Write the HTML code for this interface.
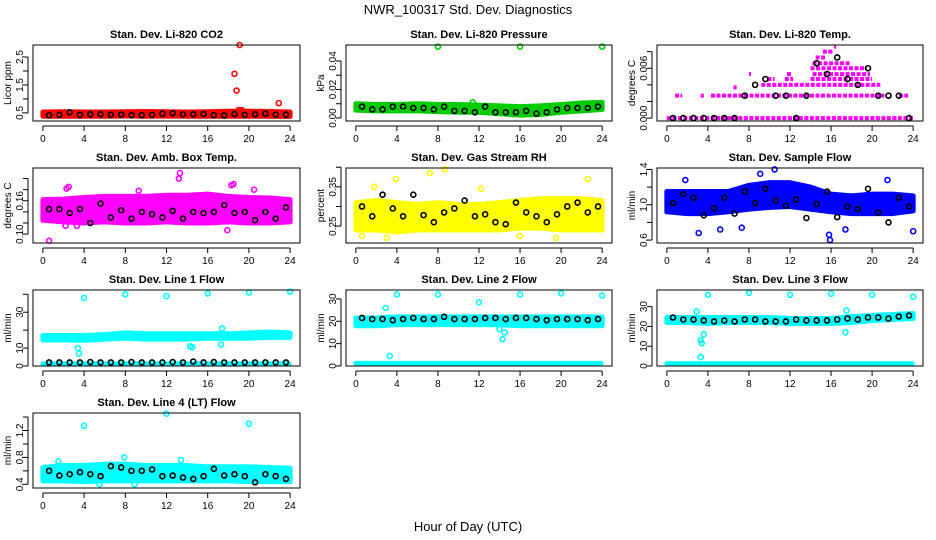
<!DOCTYPE html>
<html><head><meta charset="utf-8"><style>
body{margin:0;background:#fff}
svg{display:block;font-family:"Liberation Sans",Arial,sans-serif}
</style></head><body>
<svg id="c" width="936" height="540" viewBox="0 0 936 540">
<rect width="936" height="540" fill="#fff"/>
<text x="468" y="14" text-anchor="middle" font-size="13">NWR_100317  Std. Dev. Diagnostics</text>
<text x="468" y="531" text-anchor="middle" font-size="13">Hour of Day (UTC)</text>
</svg>
<script>
const envHours=[0,2,4,6,8,10,12,14,16,18,20,22,24];
const blackHours=[0.6,1.6,2.6,3.6,4.6,5.6,6.6,7.6,8.6,9.6,10.6,11.6,12.6,13.6,14.6,15.6,16.6,17.6,18.6,19.6,20.6,21.6,22.6,23.6];
const xTicks=[0,4,8,12,16,20,24];

const co2Lo=[0.38,0.38,0.38,0.38,0.39,0.38,0.39,0.38,0.38,0.38,0.38,0.38,0.37];
const co2Hi=[0.53,0.54,0.53,0.53,0.54,0.55,0.54,0.53,0.54,0.56,0.56,0.55,0.53];
const co2Black=[0.42,0.43,0.52,0.43,0.45,0.45,0.43,0.44,0.42,0.42,0.43,0.47,0.49,0.45,0.45,0.46,0.42,0.41,0.46,0.43,0.45,0.47,0.44,0.44];
const co2Out=[[18.6,1.9],[18.8,1.3],[19.1,2.93],[19.0,0.6],[19.3,0.6],[22.9,0.85]];

const presLo=[0.0055,0.005,0.005,0.005,0.0045,0.004,0.004,0.003,0.002,0.0025,0.004,0.005,0.006];
const presHi=[0.0100,0.0095,0.0095,0.010,0.0095,0.0095,0.009,0.0085,0.008,0.0085,0.0095,0.0105,0.011];
const presBlack=[0.008,0.006,0.006,0.008,0.008,0.007,0.007,0.006,0.008,0.005,0.005,0.004,0.008,0.004,0.004,0.004,0.005,0.003,0.004,0.006,0.007,0.007,0.007,0.008];
const presOut=[[8,0.05],[16,0.05],[24,0.05],[11.4,0.011]];

const tempSegLevel=[0,0.0027,0.0027,0.0027,0.0027,0.0037,0.004,0.0047,0.0047,0.0047,0.0053,0.0053,0.0053,0.006,0.0066,0.0073,0.008,0.0086];
const tempSegStart=[0,0.8,3.3,4.3,22.6,6.5,9.2,9.8,11.5,14,8,11.7,14.2,14,14.2,14.5,15.2,16.3];
const tempSegEnd=[24,1.5,3.6,21.2,23.5,6.8,20.8,10.5,12.3,20,8.2,12.2,19.8,19.5,17.8,15.5,16.2,16.5];
const tempBlack=[0,0,0,0,0,0,0,0.0027,0.004,0.0047,0.0027,0.0027,0,0.0027,0.0066,0.0053,0.0073,0.0047,0.004,0.006,0.0027,0.0027,0.0027,0];

const ambLo=[0.125,0.122,0.12,0.122,0.12,0.12,0.122,0.12,0.12,0.122,0.12,0.12,0.122];
const ambHi=[0.162,0.163,0.166,0.168,0.168,0.168,0.17,0.17,0.172,0.168,0.166,0.165,0.162];
const ambBlack=[0.145,0.145,0.138,0.145,0.12,0.155,0.13,0.143,0.128,0.14,0.136,0.13,0.142,0.128,0.14,0.138,0.14,0.152,0.138,0.14,0.125,0.14,0.128,0.148];
const ambOut=[[13.3,0.21],[13.2,0.20],[2.5,0.185],[2.3,0.182],[18.5,0.19],[18.3,0.188],[9.3,0.178],[17.9,0.107],[2.2,0.115],[3.3,0.115],[0.6,0.088],[20.5,0.18]];

const rhLo=[0.24,0.24,0.235,0.24,0.24,0.24,0.24,0.24,0.245,0.245,0.24,0.24,0.24];
const rhHi=[0.31,0.315,0.31,0.305,0.31,0.305,0.305,0.31,0.315,0.32,0.32,0.32,0.315];
const rhBlack=[0.30,0.275,0.33,0.295,0.275,0.33,0.278,0.26,0.285,0.295,0.315,0.275,0.28,0.26,0.255,0.31,0.285,0.275,0.26,0.28,0.30,0.31,0.285,0.30];
const rhOut=[[3.9,0.37],[7.2,0.385],[8.7,0.395],[22.6,0.37],[0.6,0.225],[3,0.22],[16,0.225],[1.8,0.35],[12.2,0.345],[19.5,0.22]];

const flowLo=[0.92,0.9,0.9,0.92,0.95,0.97,0.98,0.95,0.92,0.9,0.9,0.9,0.93];
const flowHi=[1.15,1.15,1.15,1.15,1.22,1.25,1.25,1.2,1.12,1.1,1.12,1.12,1.1];
const flowBlack=[1.02,1.12,1.08,0.88,0.96,1.08,0.9,1.15,1.02,1.18,1.05,0.99,1.06,0.85,1.01,1.15,0.86,0.98,0.95,1.18,0.91,0.8,1.08,0.98];
const flowOut=[[10.5,1.4],[9.1,1.35],[3.1,0.68],[5.2,0.72],[7.3,0.74],[15.9,0.6],[15.8,0.66],[24,0.7],[1.8,1.28],[21.5,1.28],[17.4,0.72]];

const l1Lo=[14.5,14.5,14.3,15,15.5,15,15,15,15.5,15.5,15.5,16,16];
const l1Hi=[17,17,17,17.5,18.5,18,18,18,18,18,18.5,19,18.5];
const l1Black=[2,2,2,2,2.2,2,2,2,2.2,2,2,2,2.2,2,2.5,2,2.2,2,2,2,2,2,2,2];
const l1Out=[[4,38],[8,40],[12,39],[16,40.5],[20,41],[24,41.5],[3.4,10],[3.5,7],[17.4,21],[17.3,12],[14.3,11],[14.5,10.5]];

const l2Lo=[18,18,18.5,18.5,18.5,18.5,18.5,18.5,18,18,18,18,18];
const l2Hi=[21.5,21.5,22,22,22,22,22,22,22,22,22,22,22];
const l2Black=[21.5,21,21,20.5,21,21.5,21,21,22,21,21,21,21.5,21.5,21,21.5,21.5,21,20.5,21,21,21,20.5,21];
const l2Out=[[4,32],[8,32],[16,32],[20,32.5],[24,31.5],[2.9,26],[12,28.5],[3.3,4.5],[14.3,12],[14.5,15],[14,16.5]];

const l3Lo=[22,22,21.5,22,22,22,21.5,21.5,21.5,22,23,23.5,24];
const l3Hi=[24.5,24.5,24.5,24.5,24.5,24.5,24,24,24,25,25.5,26,26.5];
const l3Black=[24.5,23.5,23.5,23,22.5,23,22.5,23.5,23.5,22.5,22.5,22.5,23.5,23,23,23,23.5,24,23.5,24.5,24.5,24,25,25.5];
const l3Out=[[4,36],[8,37],[12,36],[16,36.5],[20,36],[24,35],[2.9,27.5],[3.3,13],[3.4,11.5],[3.6,16],[3.3,4.5],[17.4,17],[17.5,28]];

const l4Lo=[0.45,0.45,0.44,0.45,0.45,0.45,0.45,0.45,0.45,0.45,0.44,0.44,0.44];
const l4Hi=[0.65,0.68,0.68,0.7,0.7,0.68,0.68,0.68,0.66,0.66,0.66,0.65,0.64];
const l4Black=[0.6,0.53,0.55,0.58,0.55,0.52,0.67,0.65,0.6,0.6,0.62,0.52,0.53,0.5,0.48,0.52,0.63,0.53,0.55,0.52,0.43,0.55,0.52,0.48];
const l4Out=[[4,1.27],[12,1.45],[20,1.3],[7.9,0.8],[13.4,0.76],[1.5,0.74],[5.5,0.4],[8.9,0.4]];

const svg=document.getElementById('c');
const NS='http://www.w3.org/2000/svg';
function mk(tag,attrs,parent){const e=document.createElementNS(NS,tag);for(const k in attrs)e.setAttribute(k,attrs[k]);(parent||svg).appendChild(e);return e;}

const cols=[[33,300],[346,612],[657,923]];
const rows=[[45,121],[168,243],[290,366],[413,488]];

function panel(p){
  const [bx0,bx1]=cols[p.col],[by0,by1]=rows[p.row];
  const g=mk('g',{});
  
  
  const xs=h=>bx0+(bx1-bx0)*(h+0.96)/25.92;
  const ys=v=>by1-(by1-by0)*(v-p.yMin)/(p.yMax-p.yMin);
  const t=mk('text',{x:(bx0+bx1)/2,y:by0-7,'text-anchor':'middle','font-size':11,'font-weight':'bold'},g);
  t.textContent=p.title;
  
  
  const plot=mk('g',{},g);
  
  
  if(p.lo){
    let d='M'+envHours.map((h,i)=>xs(h)+','+ys(p.hi[i])).join('L')+'L'+envHours.slice().reverse().map((h,i)=>xs(h)+','+ys(p.lo[p.lo.length-1-i])).join('L')+'Z';
    const b=mk('path',{d:d,fill:p.color,stroke:p.color,'stroke-width':5,'stroke-linejoin':'round'},plot);
    
    
  }
  if(p.bottom){
    const b=mk('line',{x1:xs(0),x2:xs(23.9),y1:ys(1.2),y2:ys(1.2),stroke:p.color,'stroke-width':5,'stroke-linecap':'round'},plot);
    
    
  }
  if(p.segs){
    p.segs.level.forEach((lv,i)=>{
      const s=mk('line',{x1:xs(p.segs.start[i]),x2:xs(p.segs.end[i]),y1:ys(lv),y2:ys(lv),stroke:p.color,'stroke-width':4,'stroke-dasharray':'4 1.5'},plot);
      
      
    });
  }
  (p.out||[]).forEach(o=>{
    const c=mk('circle',{cx:xs(o[0]),cy:ys(o[1]),r:2.5,fill:'none',stroke:p.color,'stroke-width':1.6},plot);
    
    
  });
  p.black.forEach((v,i)=>{
    const c=mk('circle',{cx:xs(blackHours[i]),cy:ys(v),r:2.5,fill:'none',stroke:'#000','stroke-width':1.6},plot);
    
    
  });
  const box=mk('rect',{x:bx0,y:by0,width:bx1-bx0,height:by1-by0,fill:'none',stroke:'#000','stroke-width':1},g);
  
  
  const xa=mk('g',{},g);
  
  
  mk('line',{x1:xs(0),x2:xs(24),y1:by1+5,y2:by1+5,stroke:'#000'},xa);
  xTicks.forEach(h=>{
    mk('line',{x1:xs(h),x2:xs(h),y1:by1+5,y2:by1+10,stroke:'#000'},xa);
    const tl=mk('text',{x:xs(h),y:by1+21,'text-anchor':'middle','font-size':10},xa);
    tl.textContent=h;
    
    
  });
  const ya=mk('g',{},g);
  
  
  const ax=bx0-5;
  mk('line',{x1:ax,x2:ax,y1:ys(p.ticks[0]),y2:ys(p.ticks[p.ticks.length-1]),stroke:'#000'},ya);
  p.ticks.forEach(v=>mk('line',{x1:ax,x2:ax-5,y1:ys(v),y2:ys(v),stroke:'#000'},ya));
  p.labels.forEach(v=>{
    const y=ys(v),x=bx0-10;
    const tl=mk('text',{x:x,y:y,'text-anchor':'middle','font-size':10,transform:`rotate(-90 ${x} ${y})`},ya);
    tl.textContent=p.fmt(v);
    
    
  });
  const tx=bx0-22,ty=(by0+by1)/2;
  const yt=mk('text',{x:tx,y:ty,'text-anchor':'middle','font-size':10,transform:`rotate(-90 ${tx} ${ty})`},ya);
  yt.textContent=p.ylab;
  
  
}

panel({name:'co2-panel',title:'Stan. Dev. Li-820 CO2',col:0,row:0,yMin:0.21,yMax:2.93,ticks:[0.5,1,1.5,2,2.5],labels:[0.5,1.5,2.5],fmt:v=>v.toFixed(1),ylab:'Licor ppm',color:'#ff0000',lo:co2Lo,hi:co2Hi,black:co2Black,out:co2Out});
panel({name:'pressure-panel',title:'Stan. Dev. Li-820 Pressure',col:1,row:0,yMin:-0.0021,yMax:0.0512,ticks:[0,0.01,0.02,0.03,0.04],labels:[0,0.02,0.04],fmt:v=>v.toFixed(2),ylab:'kPa',color:'#00cc00',lo:presLo,hi:presHi,black:presBlack,out:presOut});
panel({name:'li820-temp-panel',title:'Stan. Dev. Li-820 Temp.',col:2,row:0,yMin:-0.00035,yMax:0.0088,ticks:[0,0.002,0.004,0.006,0.008],labels:[0,0.006],fmt:v=>v.toFixed(3),ylab:'degrees C',color:'#ff00ff',segs:{level:tempSegLevel,start:tempSegStart,end:tempSegEnd},black:tempBlack,out:[]});
panel({name:'amb-box-temp-panel',title:'Stan. Dev. Amb. Box Temp.',col:0,row:1,yMin:0.084,yMax:0.219,ticks:[0.1,0.12,0.14,0.16,0.18,0.2],labels:[0.1,0.16],fmt:v=>v.toFixed(2),ylab:'degrees C',color:'#ff00ff',lo:ambLo,hi:ambHi,black:ambBlack,out:ambOut});
panel({name:'gas-stream-rh-panel',title:'Stan. Dev. Gas Stream RH',col:1,row:1,yMin:0.207,yMax:0.398,ticks:[0.25,0.3,0.35,0.4],labels:[0.25,0.35],fmt:v=>v.toFixed(2),ylab:'percent',color:'#ffff00',lo:rhLo,hi:rhHi,black:rhBlack,out:rhOut});
panel({name:'sample-flow-panel',title:'Stan. Dev. Sample Flow',col:2,row:1,yMin:0.567,yMax:1.416,ticks:[0.6,0.8,1.0,1.2,1.4],labels:[0.6,1.0,1.4],fmt:v=>v.toFixed(1),ylab:'ml/min',color:'#0000ff',lo:flowLo,hi:flowHi,black:flowBlack,out:flowOut});
panel({name:'line1-flow-panel',title:'Stan. Dev. Line 1 Flow',col:0,row:2,yMin:0,yMax:42.4,ticks:[0,10,20,30,40],labels:[0,10,30],fmt:v=>String(v),ylab:'ml/min',color:'#00ffff',lo:l1Lo,hi:l1Hi,bottom:true,black:l1Black,out:l1Out});
panel({name:'line2-flow-panel',title:'Stan. Dev. Line 2 Flow',col:1,row:2,yMin:0,yMax:34,ticks:[0,10,20,30],labels:[0,10,20,30],fmt:v=>String(v),ylab:'ml/min',color:'#00ffff',lo:l2Lo,hi:l2Hi,bottom:true,black:l2Black,out:l2Out});
panel({name:'line3-flow-panel',title:'Stan. Dev. Line 3 Flow',col:2,row:2,yMin:0,yMax:38.4,ticks:[0,10,20,30],labels:[0,10,20,30],fmt:v=>String(v),ylab:'ml/min',color:'#00ffff',lo:l3Lo,hi:l3Hi,bottom:true,black:l3Black,out:l3Out});
panel({name:'line4-flow-panel',title:'Stan. Dev. Line 4 (LT) Flow',col:0,row:3,yMin:0.345,yMax:1.46,ticks:[0.4,0.6,0.8,1.0,1.2,1.4],labels:[0.4,0.8,1.2],fmt:v=>v.toFixed(1),ylab:'ml/min',color:'#00ffff',lo:l4Lo,hi:l4Hi,black:l4Black,out:l4Out});
</script>
</body></html>
